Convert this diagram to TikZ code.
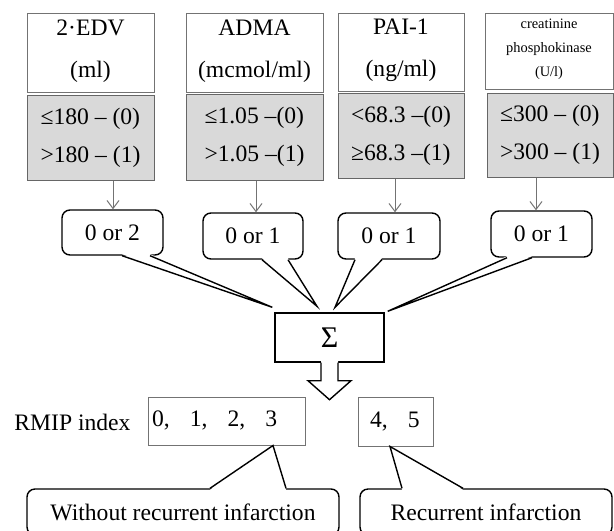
\documentclass[tikz,border=0pt]{standalone}
\usepackage{fontspec}
\setmainfont{Liberation Serif}
\usetikzlibrary{arrows.meta, calc}

\begin{document}
\begin{tikzpicture}[x=0.5pt, y=-0.5pt,
  font=\fontsize{11.8pt}{14pt}\selectfont,
  testa/.style={draw=black!55, line width=0.5pt, fill=white, align=center, inner sep=0pt},
  soglia/.style={draw=black!60, line width=0.5pt, fill=black!15, align=left, inner sep=0pt},
  fumetto/.style={draw=black, line width=0.7pt, rounded corners=4pt, fill=white, inner sep=0pt},
  indice/.style={draw=black!55, line width=0.5pt, align=left, inner ysep=0pt},
  freccia/.style={draw=black!55, line width=0.5pt, -{Straight Barb[length=4pt, width=6pt]}},
  coda/.style={draw=black, line width=0.7pt, line join=miter}]
  \useasboundingbox (0,0) rectangle (614,530);
  \clip (0,0) rectangle (614,530);

  % riquadri superiori
  \node[testa, minimum width=63.5pt, minimum height=39.5pt] (h1) at (90.5,52.5) {2·EDV\\[7pt](ml)\strut};
  \node[testa, minimum width=68.5pt, minimum height=39.5pt] (h2) at (254.5,52.5) {ADMA\\[7pt](mcmol/ml)\strut};
  \node[testa, minimum width=63pt, minimum height=39pt] (h3) at (401,52) {PAI-1\\[7pt](ng/ml)\strut};
  \node[testa, minimum width=64pt, minimum height=38pt,
        font=\fontsize{7.2pt}{12pt}\selectfont] (h4) at (549,51) {creatinine\\phosphokinase\\(U/l)\strut};

  % soglie (grigio)
  \node[soglia, minimum width=63.5pt, minimum height=42.5pt] (g1) at (90.5,137.5) {≤180 – (0)\\[5pt]>180 – (1)};
  \node[soglia, minimum width=68.5pt, minimum height=43pt] (g2) at (254.5,137) {≤1.05 –(0)\\[5pt]>1.05 –(1)};
  \node[soglia, minimum width=63pt, minimum height=42.5pt] (g3) at (401,135.5) {<68.3 –(0)\\[5pt]≥68.3 –(1)};
  \node[soglia, minimum width=63pt, minimum height=42pt] (g4) at (550,135) {≤300 – (0)\\[5pt]>300 – (1)};

  % punteggi
  \node[fumetto, minimum width=50.5pt, minimum height=22.5pt] (v1) at (112.5,232.5) {0 or 2};
  \node[fumetto, minimum width=50pt, minimum height=23pt] (v2) at (253,236) {0 or 1};
  \node[fumetto, minimum width=51pt, minimum height=23pt] (v3) at (389,236) {0 or 1};
  \node[fumetto, minimum width=50.5pt, minimum height=23pt] (v4) at (541.5,234) {0 or 1};

  \foreach \g/\v/\dx in {g1/v1/0.5, g2/v2/3, g3/v3/6, g4/v4/-5.5}
    \draw[freccia] ($(\v.north |- \g.south)+(\dx,0)$) -- ($(\v.north)+(\dx,0)$);

  % somma
  \node[draw, line width=0.7pt, minimum width=54.5pt, minimum height=24.5pt,
        font=\fontsize{15pt}{17pt}\selectfont] (somma) at (329.5,337.5) {Σ};

  \coordinate (p1) at ($(somma.north west)+(-2,-5)$);
  \coordinate (p2) at ($(somma.north)+(-12.5,-6)$);
  \coordinate (p3) at ($(somma.north)+(5.5,-5)$);
  \coordinate (p4) at ($(somma.north east)+(3,-1)$);

  % code dei fumetti
  \foreach \v/\da/\db/\p in {v1/9.5/37.5/p1, v2/9/35/p2, v3/-34/-7/p3, v4/-34.5/-9.5/p4} {
    \fill[white] ($(\v.south)+(\da,-1.5)$) -- (\p) -- ($(\v.south)+(\db,-1.5)$) -- cycle;
    \draw[coda] ($(\v.south)+(\da,0)$) -- (\p) -- ($(\v.south)+(\db,0)$);
  }

  % freccia vuota
  \fill[white] ($(somma.south)+(-8.5,-1.5)$) -- ++(0,19.5) -- ++(-13,0) -- ($(somma.south)+(0,37)$)
    -- ($(somma.south)+(21.5,18)$) -- ++(-13,0) -- ++(0,-19.5) -- cycle;
  \draw[coda] ($(somma.south)+(-8.5,0)$) -- ++(0,18) -- ++(-13,0) -- ($(somma.south)+(0,37)$)
    -- ($(somma.south)+(21.5,18)$) -- ++(-13,0) -- ($(somma.south)+(8.5,0)$);

  % indice
  \node (rmip) at (72.5,422) {RMIP index};
  \node[indice, text width=74.5pt, inner xsep=2pt, minimum height=24pt] (i1) at (226.5,421)
    {0,\hspace{.85em}1,\hspace{.85em}2,\hspace{.85em}3\strut};
  \node[indice, text width=25.5pt, inner xsep=6pt, minimum height=24.5pt] (i2) at (395.5,421.5)
    {4,\hspace{.85em}5\strut};

  % esito
  \node[fumetto, minimum width=156pt, minimum height=23pt] (o1) at (183,512) {Without recurrent infarction};
  \node[fumetto, minimum width=126pt, minimum height=23pt] (o2) at (486,512) {Recurrent infarction};

  \coordinate (q1) at ($(i1.south)+(46.5,0)$);
  \coordinate (q2) at ($(i2.south)+(-5.5,0)$);

  \foreach \o/\da/\db/\q in {o1/27/103/q1, o2/-84/-23/q2} {
    \fill[white] ($(\o.north)+(\da,1.5)$) -- (\q) -- ($(\o.north)+(\db,1.5)$) -- cycle;
    \draw[coda] ($(\o.north)+(\da,0)$) -- (\q) -- ($(\o.north)+(\db,0)$);
  }
\end{tikzpicture}
\end{document}
